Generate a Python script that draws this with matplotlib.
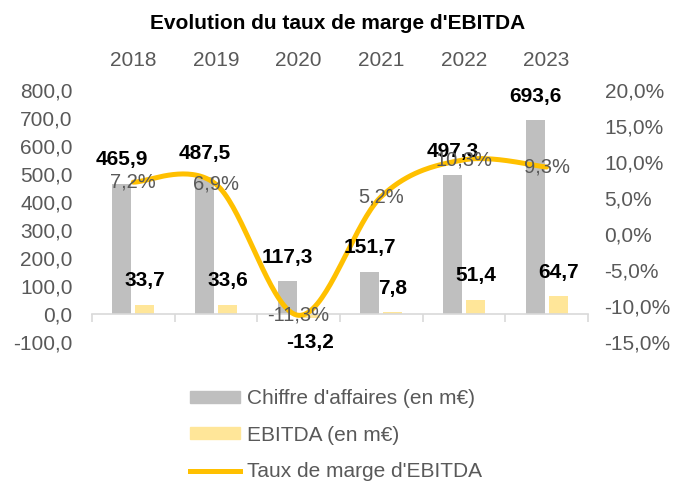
import numpy as np
import matplotlib.pyplot as plt
from matplotlib.patches import Patch
from matplotlib.lines import Line2D

plt.rcParams['font.family'] = ['Liberation Sans', 'DejaVu Sans']

years = ['2018', '2019', '2020', '2021', '2022', '2023']
ca = [465.9, 487.5, 117.3, 151.7, 497.3, 693.6]
ebitda = [33.7, 33.6, -13.2, 7.8, 51.4, 64.7]
marge = [7.2, 6.9, -11.3, 5.2, 10.3, 9.3]

grey_txt = '#595959'
c_ca = '#BFBFBF'
c_eb = '#FFE699'
c_line = '#FFC000'


def fr(v, suffix=''):
    return ('%.1f' % v).replace('.', ',') + suffix


def smooth(xs, ys, n=40):
    # bezier smoothing like the spreadsheet "smoothed line"
    p = np.column_stack([xs, ys]).astype(float)
    pts = []
    for i in range(len(p) - 1):
        p0 = p[i - 1] if i > 0 else p[i]
        p3 = p[i + 2] if i + 2 < len(p) else p[i + 1]
        c1 = p[i] + (p[i + 1] - p0) / 6
        c2 = p[i + 1] - (p3 - p[i]) / 6
        t = np.linspace(0, 1, n)[:, None]
        seg = ((1 - t) ** 3 * p[i] + 3 * (1 - t) ** 2 * t * c1
               + 3 * (1 - t) * t ** 2 * c2 + t ** 3 * p[i + 1])
        pts.append(seg if i == 0 else seg[1:])
    pts = np.vstack(pts)
    return pts[:, 0], pts[:, 1]


fig = plt.figure(figsize=(6.75, 4.82), dpi=100)
ax = fig.add_axes([0.1363, 0.2905, 0.7347, 0.5228])
ax2 = ax.twinx()

x = np.arange(len(years))
w = 0.23
ax.bar(x - 0.14, ca, w, color=c_ca, zorder=2)
ax.bar(x + 0.14, ebitda, w, color=c_eb, zorder=2)

ax.set_xlim(-0.5, len(years) - 0.5)
ax.set_ylim(-100, 800)
ax.set_yticks(np.arange(-100, 801, 100))
ax.set_yticklabels([fr(v) for v in np.arange(-100, 801, 100)])

ax.set_xticks(x)
ax.set_xticklabels(years)
ax.set_xticks(np.arange(-0.5, len(years)), minor=True)
ax.tick_params(axis='x', which='major', bottom=False, top=False,
               labelbottom=False, labeltop=True, labelsize=15,
               labelcolor=grey_txt, pad=11)
ax.tick_params(axis='x', which='minor', bottom=True, length=6,
               color='#D9D9D9', width=1.2)
ax.tick_params(axis='y', length=0, labelsize=15, labelcolor=grey_txt, pad=14)

for s in ['top', 'left', 'right']:
    ax.spines[s].set_visible(False)
ax.spines['bottom'].set_position(('data', 0))
ax.spines['bottom'].set_color('#D9D9D9')
ax.spines['bottom'].set_linewidth(1.2)
for s in ax2.spines.values():
    s.set_visible(False)

sx, sy = smooth(x, marge)
ax2.plot(sx, sy, color=c_line, lw=3.6, solid_capstyle='round', zorder=3)
ax2.set_ylim(-15, 20)
ax2.set_yticks(np.arange(-15, 21, 5))
ax2.set_yticklabels([fr(v, '%') for v in np.arange(-15, 21, 5)])
ax2.tick_params(axis='y', length=0, labelsize=15, labelcolor=grey_txt, pad=12)

# data labels
for i in range(len(years)):
    ax2.annotate(fr(ca[i]), (x[i] - 0.14, ca[i]), xycoords=ax.transData,
                 xytext=(0, 17), textcoords='offset points', ha='center',
                 va='center', fontsize=15, fontweight='bold', zorder=5)
    off = 17 if ebitda[i] >= 0 else -18
    ax2.annotate(fr(ebitda[i]), (x[i] + 0.14, ebitda[i]), xycoords=ax.transData,
                 xytext=(0, off), textcoords='offset points', ha='center',
                 va='center', fontsize=15, fontweight='bold', zorder=5)
    ax2.text(x[i], marge[i], fr(marge[i], '%'), ha='center', va='center',
             fontsize=14.5, color=grey_txt, zorder=5)

fig.text(0.5, 0.952, "Evolution du taux de marge d'EBITDA", ha='center',
         va='center', fontsize=15, fontweight='bold')

handles = [Patch(color=c_ca), Patch(color=c_eb),
           Line2D([0], [0], color=c_line, lw=3.6)]
labels = ["Chiffre d'affaires (en m€)", 'EBITDA (en m€)', "Taux de marge d'EBITDA"]
fig.legend(handles, labels, loc='upper left', bbox_to_anchor=(0.2815, 0.193),
           frameon=False, fontsize=15, labelcolor=grey_txt, handlelength=2.4,
           handleheight=0.5, handletextpad=0.35, labelspacing=0.85,
           borderpad=0, borderaxespad=0)

fig.savefig('out.png', dpi=100)
